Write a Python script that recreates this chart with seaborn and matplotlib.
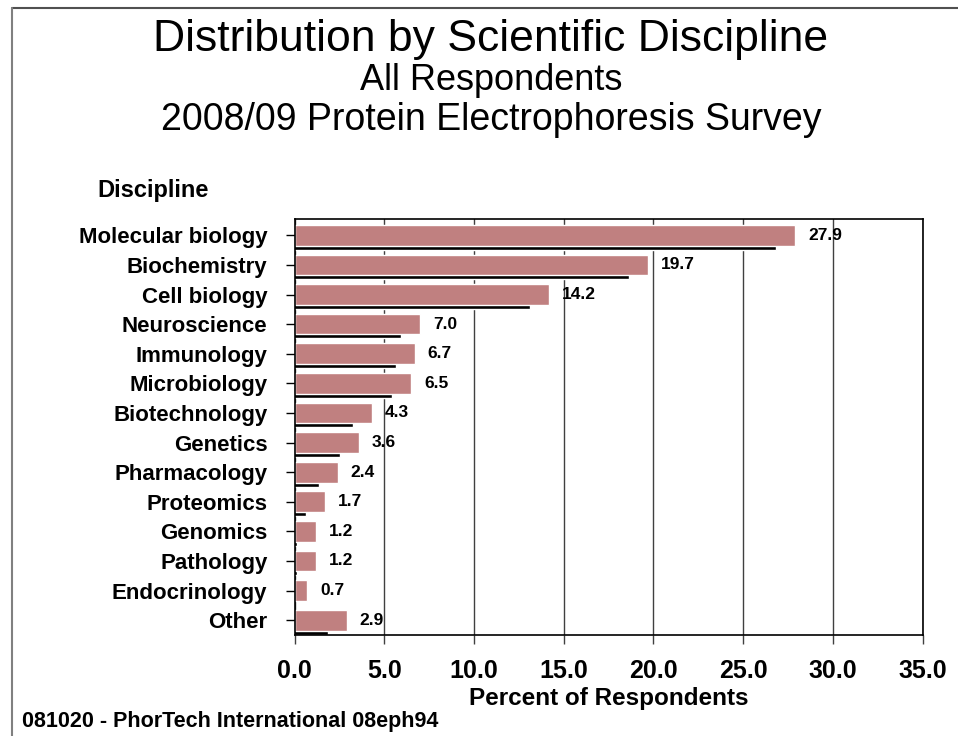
import matplotlib
matplotlib.use("Agg")
import matplotlib.pyplot as plt
import matplotlib.transforms as mtransforms
from matplotlib.lines import Line2D
import seaborn as sns
import pandas as pd

# data
disciplines = ["Molecular biology", "Biochemistry", "Cell biology", "Neuroscience",
               "Immunology", "Microbiology", "Biotechnology", "Genetics",
               "Pharmacology", "Proteomics", "Genomics", "Pathology",
               "Endocrinology", "Other"]
percent = [27.9, 19.7, 14.2, 7.0, 6.7, 6.5, 4.3, 3.6, 2.4, 1.7, 1.2, 1.2, 0.7, 2.9]
x_ticks = [0, 5, 10, 15, 20, 25, 30, 35]

BAR = "#C08080"
W, H = 958, 736

df = pd.DataFrame({"Discipline": disciplines, "Percent": percent})

sns.set_theme(style="white")
plt.rcParams["font.family"] = ["Liberation Sans", "DejaVu Sans"]
plt.rcParams["text.color"] = "black"

fig = plt.figure(figsize=(W / 100, H / 100), dpi=100)
ax = fig.add_axes([294.5 / W, 1 - 635 / H, 628 / W, 416 / H])

# shadow bars: same bars, pushed left and down a few pixels
sns.barplot(data=df, x="Percent", y="Discipline", orient="h", color="black",
            width=0.7, saturation=1, ax=ax)
n_shadow = len(ax.patches)
shift = mtransforms.ScaledTranslation(-19 / 100, -4 / 100, fig.dpi_scale_trans)
for p in ax.patches[:n_shadow]:
    p.set_transform(ax.transData + shift)

sns.barplot(data=df, x="Percent", y="Discipline", orient="h", color=BAR,
            width=0.7, saturation=1, ax=ax)

for i, v in enumerate(percent):
    ax.annotate(f"{v:.1f}", xy=(v, i), xytext=(13, 0), textcoords="offset pixels",
                ha="left", va="center", fontsize=12.5, fontweight="bold", color="black")

ax.set_xlim(0, 35)
ax.set_ylim(len(disciplines) - 0.5, -0.55)
ax.set_xticks(x_ticks)
ax.set_xticklabels([f"{t:.1f}" for t in x_ticks])
ax.set_axisbelow(True)
ax.xaxis.grid(True, color="#404040", lw=1)
ax.yaxis.grid(False)
for s in ax.spines.values():
    s.set_color("black")
    s.set_linewidth(1.2)

ax.tick_params(axis="y", length=6.5, width=1, color="black", pad=13,
               labelsize=16, left=True)
ax.tick_params(axis="x", length=6.5, width=1, color="#404040", pad=11,
               labelsize=18, bottom=True)
for lbl in ax.get_yticklabels() + ax.get_xticklabels():
    lbl.set_fontweight("bold")
    lbl.set_color("black")

ax.set_ylabel("")
ax.set_xlabel("Percent of Respondents", fontsize=17.5, fontweight="bold",
              labelpad=3, color="black")

fig.text(491 / W, 1 - 39 / H, "Distribution by Scientific Discipline",
         ha="center", va="center", fontsize=32)
fig.text(491 / W, 1 - 80 / H, "All Respondents", ha="center", va="center", fontsize=26)
fig.text(491 / W, 1 - 120 / H, "2008/09 Protein Electrophoresis Survey",
         ha="center", va="center", fontsize=27)
fig.text(97 / W, 1 - 191 / H, "Discipline", ha="left", va="center",
         fontsize=17, fontweight="bold")
fig.text(22 / W, 1 - 722 / H, "081020 - PhorTech International 08eph94",
         ha="left", va="center", fontsize=15.5, fontweight="bold")

# page frame (top and left edges)
fig.add_artist(Line2D([12 / W, 1], [1 - 8 / H, 1 - 8 / H], transform=fig.transFigure,
                      color="#505050", lw=1.5))
fig.add_artist(Line2D([12 / W, 12 / W], [0, 1 - 8 / H], transform=fig.transFigure,
                      color="#808080", lw=1.5))

fig.savefig("out.png", dpi=100)
